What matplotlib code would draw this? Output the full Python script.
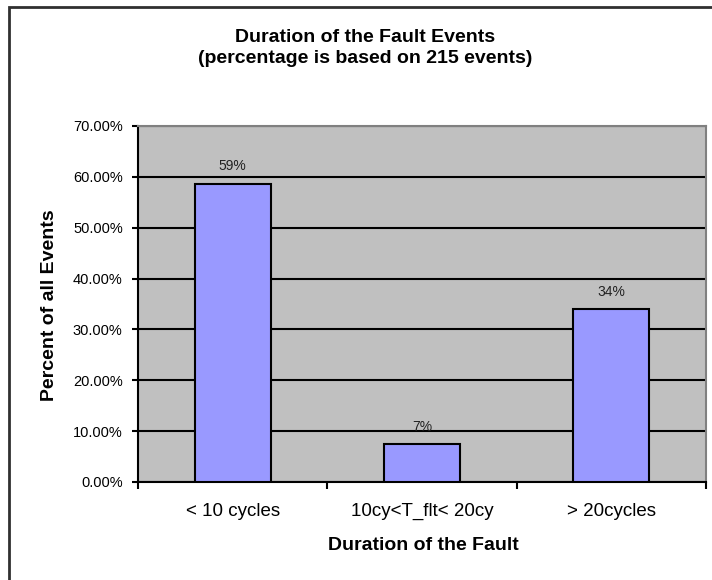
import numpy as np
import matplotlib.pyplot as plt
from matplotlib.patches import Rectangle
from matplotlib.ticker import FixedLocator

# fault duration buckets, counts out of 215 recorded events
categories = ['< 10 cycles', '10cy<T_flt< 20cy', '> 20cycles']
events = [126, 16, 73]
total_events = 215
percent = [100.0 * n / total_events for n in events]
yticks = [0, 10, 20, 30, 40, 50, 60, 70]

plt.rcParams['font.family'] = ['Liberation Sans', 'DejaVu Sans']

fig = plt.figure(figsize=(7.12, 5.8), dpi=100)
ax = fig.add_axes([0.1938, 0.169, 0.7978, 0.6138])

x = np.arange(len(categories))
ax.set_facecolor('#c0c0c0')
ax.bar(x, percent, width=0.4, color='#9999ff', edgecolor='black', linewidth=1.5, zorder=3)

for xi, p in zip(x, percent):
    ax.annotate('%d%%' % round(p), (xi, p), xytext=(0, 12.6), textcoords='offset points',
                ha='center', va='center', fontsize=10, color='#222222', zorder=4)

ax.set_xlim(-0.5, 2.5)
ax.set_ylim(0, 70)
ax.set_yticks(yticks)
ax.set_yticklabels(['%.2f%%' % v for v in yticks], fontsize=10.5)
ax.yaxis.grid(True, color='black', linewidth=1.5, zorder=1)
ax.set_axisbelow(True)

# category names sit between the boundary tick marks
ax.set_xticks(x)
ax.set_xticklabels(categories, fontsize=13.5)
ax.xaxis.set_minor_locator(FixedLocator([-0.5, 0.5, 1.5, 2.5]))
ax.tick_params(axis='x', which='major', length=0, pad=15)
ax.tick_params(axis='x', which='minor', length=5, width=1.5, direction='out')
ax.tick_params(axis='y', length=4, width=1.5, direction='out', pad=7)

for side in ['top', 'right']:
    ax.spines[side].set_color('#808080')
    ax.spines[side].set_linewidth(1.5)
for side in ['left', 'bottom']:
    ax.spines[side].set_color('black')
    ax.spines[side].set_linewidth(1.5)

fig.text(423 / 712, 1 - 545 / 580, 'Duration of the Fault', ha='center', va='center',
         fontsize=14, fontweight='bold')
fig.text(50 / 712, 1 - 305 / 580, 'Percent of all Events', ha='center', va='center',
         rotation=90, fontsize=14, fontweight='bold')

fig.text(365 / 712, 1 - 48 / 580, 'Duration of the Fault Events\n(percentage is based on 215 events)',
         ha='center', va='center', fontsize=14, fontweight='bold', linespacing=1.3)

# chart border
fig.patches.append(Rectangle((9 / 712, -0.05), 1.05, 0.05 + 1 - 7 / 580,
                             transform=fig.transFigure, fill=False,
                             edgecolor='#303030', linewidth=2))

fig.savefig('out.png', dpi=100)
